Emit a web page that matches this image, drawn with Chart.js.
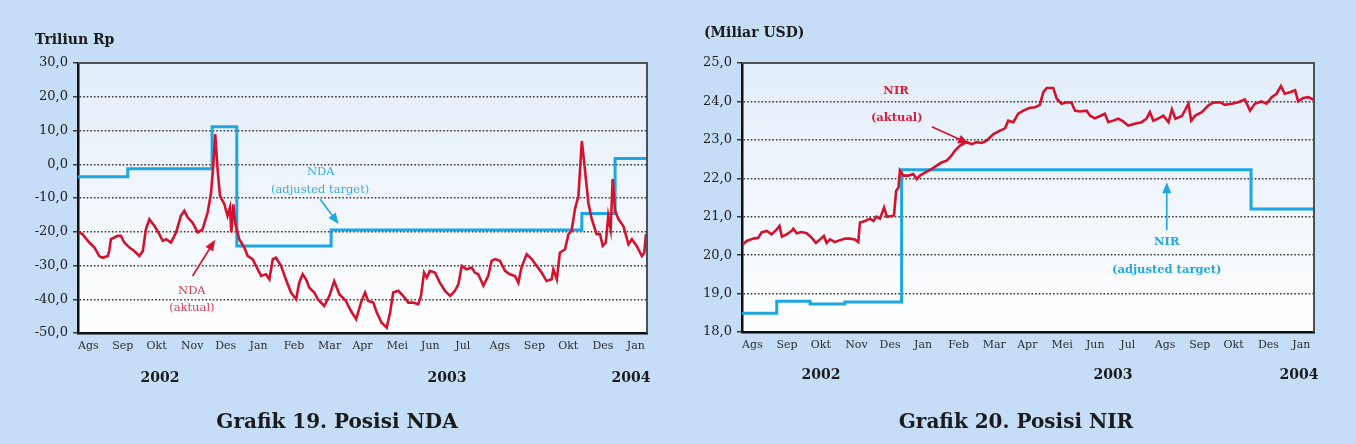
<!DOCTYPE html>
<html>
<head>
<meta charset="utf-8">
<script src="https://cdn.jsdelivr.net/npm/chart.js@4.4.1/dist/chart.umd.min.js"></script>
<style>
  html, body { margin: 0; padding: 0; }
  body { width: 1356px; height: 444px; background: #c6ddf7; position: relative; overflow: hidden; font-family: 'DejaVu Serif', serif; }
  .box { position: absolute; top: 0; width: 678px; height: 444px; }
  .txt { position: absolute; line-height: 1; white-space: nowrap; color: #1b1b1b; font-weight: bold; }
  .c { transform: translateX(-50%); }
</style>
</head>
<body>
<div class="box" style="left:0"><canvas id="grafikNda"></canvas></div>
<div class="box" style="left:678px"><canvas id="grafikNir"></canvas></div>

<div class="txt" style="left:35px;top:32px;font-size:14px">Triliun Rp</div>
<div class="txt" style="left:704px;top:25px;font-size:14px">(Miliar USD)</div>

<div class="txt c" style="left:160px;top:370px;font-size:14px">2002</div>
<div class="txt c" style="left:447px;top:370px;font-size:14px">2003</div>
<div class="txt c" style="left:631px;top:370px;font-size:14px">2004</div>
<div class="txt c" style="left:821px;top:367px;font-size:14px">2002</div>
<div class="txt c" style="left:1113px;top:367px;font-size:14px">2003</div>
<div class="txt c" style="left:1299px;top:367px;font-size:14px">2004</div>

<div class="txt c" style="left:337px;top:411px;font-size:20px">Grafik 19. Posisi NDA</div>
<div class="txt c" style="left:1016px;top:411px;font-size:20px">Grafik 20. Posisi NIR</div>

<script>
// label bulan pada sumbu x (Nov 2003 memang tidak tercetak di grafik asli)
const bulanLabel = ['Ags','Sep','Okt','Nov','Des','Jan','Feb','Mar','Apr','Mei','Jun','Jul','Ags','Sep','Okt','Des','Jan'];

// NDA aktual (Triliun Rp), posisi dalam satuan bulan sejak awal Agustus 2002
const ndaAktualX = [0.02,0.13,0.33,0.48,0.62,0.72,0.87,0.91,0.96,1.06,1.16,1.25,1.35,1.5,1.64,1.79,1.89,1.98,2.08,2.23,
  2.37,2.47,2.57,2.71,2.86,3.0,3.1,3.2,3.34,3.49,3.63,3.78,3.88,3.95,4.0,4.07,4.14,4.27,4.36,4.43,
  4.47,4.53,4.59,4.7,4.85,4.95,5.09,5.19,5.34,5.48,5.58,5.68,5.77,5.92,6.06,6.21,6.36,6.45,6.55,6.65,
  6.74,6.89,6.99,7.18,7.33,7.47,7.62,7.81,7.96,8.11,8.25,8.37,8.46,8.61,8.71,8.85,9.0,9.1,9.19,9.34,
  9.48,9.63,9.77,9.92,10.0,10.09,10.17,10.26,10.41,10.55,10.7,10.85,10.99,11.09,11.19,11.33,11.48,11.57,11.67,11.82,
  11.96,12.06,12.16,12.3,12.45,12.59,12.74,12.84,12.93,13.08,13.23,13.37,13.52,13.66,13.81,13.86,13.96,14.05,14.2,14.3,
  14.39,14.49,14.59,14.69,14.78,14.88,14.98,15.12,15.22,15.3,15.39,15.46,15.53,15.59,15.66,15.76,15.9,16.05,16.15,16.29,
  16.44,16.51,16.56];
const ndaAktualY = [-20.2,-20.7,-23.2,-24.7,-27.2,-27.7,-27.2,-25.7,-22.2,-21.7,-21.2,-21.2,-23.2,-24.7,-25.7,-27.2,-25.7,-19.3,-16.3,-18.3,
  -20.7,-22.7,-22.2,-23.2,-20.2,-15.3,-13.8,-15.8,-17.3,-20.2,-19.3,-14.3,-8.4,0.5,8.9,-1.5,-9.4,-11.9,-15.3,-12.8,
  -20.2,-11.9,-17.8,-22.2,-24.7,-27.2,-28.1,-30.1,-33.1,-32.6,-34.1,-28.1,-27.7,-30.1,-34.1,-38,-40,-35.1,-32.6,-34.1,
  -36.5,-38,-40,-42,-39,-34.6,-38.5,-40.5,-43.5,-45.9,-41,-38,-40.5,-41,-43.9,-46.9,-48.4,-43.9,-38,-37.5,
  -39,-41,-41,-41.5,-39,-32.1,-33.6,-31.6,-32.1,-35.1,-37.5,-39,-37.5,-35.6,-30.1,-31.1,-30.6,-32.1,-32.6,-36,
  -33.1,-28.6,-28.1,-28.6,-31.6,-32.6,-33.1,-35.1,-30.6,-26.7,-28.1,-30.1,-32.1,-34.6,-34.1,-31.1,-34.1,-26.2,-25.2,-20.7,
  -19.8,-13.3,-9.4,6.9,-1.5,-11.4,-16.3,-20.7,-20.7,-24.2,-23.2,-15.3,-19.3,-4.4,-13.8,-16.3,-18.3,-23.7,-22.2,-24.2,
  -27.2,-26.2,-20.7];

// NDA adjusted target (berlaku mulai posisi x sampai perubahan berikutnya)
const ndaTargetX = [0, 1.45, 3.91, 4.63, 7.38, 14.69, 15.66, 16.59];
const ndaTargetY = [-3.7, -1.3, 11.1, -24.2, -19.5, -14.6, 1.7, 1.7];

// NIR aktual (Miliar USD)
const nirAktualX = [0.02,0.14,0.33,0.47,0.57,0.72,0.86,1.01,1.09,1.16,1.3,1.44,1.49,1.59,1.73,1.88,2.03,2.15,2.27,2.38,
  2.46,2.56,2.7,2.85,3.0,3.14,3.28,3.38,3.43,3.58,3.72,3.82,3.91,4.01,4.13,4.21,4.35,4.42,4.48,4.55,
  4.59,4.69,4.84,4.98,5.08,5.17,5.32,5.51,5.66,5.8,5.95,6.09,6.19,6.34,6.53,6.68,6.82,6.97,7.11,7.31,
  7.5,7.65,7.74,7.89,8.03,8.18,8.35,8.52,8.66,8.76,8.86,9.05,9.15,9.29,9.44,9.58,9.68,9.82,10.02,10.12,
  10.26,10.41,10.55,10.65,10.79,10.94,11.08,11.23,11.42,11.62,11.76,11.86,11.96,12.11,12.25,12.4,12.5,12.6,12.79,12.98,
  13.06,13.18,13.37,13.56,13.7,13.9,14.04,14.24,14.43,14.62,14.77,14.91,15.1,15.25,15.4,15.54,15.67,15.78,15.93,16.08,
  16.17,16.32,16.46,16.62];
const nirAktualY = [20.28,20.37,20.43,20.45,20.59,20.63,20.54,20.67,20.76,20.48,20.54,20.63,20.69,20.57,20.6,20.57,20.45,20.32,20.41,20.5,
  20.32,20.41,20.34,20.39,20.43,20.43,20.41,20.34,20.85,20.89,20.95,20.89,21.0,20.95,21.24,21.0,21.02,21.04,21.67,21.76,
  22.2,22.07,22.07,22.11,21.98,22.07,22.15,22.24,22.33,22.41,22.46,22.59,22.72,22.85,22.94,22.89,22.94,22.92,22.98,23.15,
  23.24,23.3,23.5,23.46,23.68,23.76,23.83,23.85,23.91,24.24,24.35,24.35,24.07,23.94,23.98,23.97,23.76,23.74,23.76,23.63,
  23.56,23.62,23.68,23.46,23.5,23.55,23.48,23.37,23.42,23.46,23.55,23.72,23.5,23.56,23.63,23.46,23.79,23.55,23.62,23.94,
  23.5,23.63,23.72,23.9,23.97,23.98,23.91,23.94,23.98,24.05,23.76,23.94,24.0,23.94,24.11,24.2,24.4,24.2,24.24,24.29,
  24.0,24.09,24.11,24.05];

// NIR adjusted target
const nirTargetX = [0, 1.01, 1.98, 2.99, 4.64, 14.8, 16.63];
const nirTargetY = [18.49, 18.8, 18.73, 18.78, 22.22, 21.2, 21.2];

const merah = '#d5122d';
const biru = '#1ea6e1';

Chart.defaults.font.family = "'DejaVu Serif', serif";

function gabung(xs, ys) {
  return xs.map((x, i) => ({ x: x, y: ys[i] }));
}

function gambarPanah(ctx, x1, y1, x2, y2, warna) {
  const a = Math.atan2(y2 - y1, x2 - x1);
  ctx.save();
  ctx.strokeStyle = warna;
  ctx.fillStyle = warna;
  ctx.lineWidth = 1.6;
  ctx.beginPath();
  ctx.moveTo(x1, y1);
  ctx.lineTo(x2 - 7 * Math.cos(a), y2 - 7 * Math.sin(a));
  ctx.stroke();
  ctx.beginPath();
  ctx.moveTo(x2, y2);
  ctx.lineTo(x2 - 11 * Math.cos(a) + 4.5 * Math.sin(a), y2 - 11 * Math.sin(a) - 4.5 * Math.cos(a));
  ctx.lineTo(x2 - 11 * Math.cos(a) - 4.5 * Math.sin(a), y2 - 11 * Math.sin(a) + 4.5 * Math.cos(a));
  ctx.closePath();
  ctx.fill();
  ctx.restore();
}

// latar area plot, bingkai atas/kanan, dan keterangan di dalam grafik
const catatanPlugin = {
  id: 'catatan',
  beforeDraw(chart) {
    const { ctx, chartArea: a } = chart;
    const g = ctx.createLinearGradient(0, a.top, 0, a.bottom);
    g.addColorStop(0, '#e2edf9');
    g.addColorStop(1, '#ffffff');
    ctx.save();
    ctx.fillStyle = g;
    ctx.fillRect(a.left, a.top, a.right - a.left, a.bottom - a.top);
    ctx.restore();
  },
  afterDraw(chart, args, opts) {
    const { ctx, chartArea: a, scales } = chart;
    ctx.save();
    ctx.strokeStyle = '#4b5058';
    ctx.lineWidth = 2;
    ctx.beginPath();
    ctx.moveTo(a.left, a.top);
    ctx.lineTo(a.right, a.top);
    ctx.lineTo(a.right, a.bottom);
    ctx.stroke();
    ctx.restore();

    (opts.panah || []).forEach(p => {
      gambarPanah(ctx, scales.x.getPixelForValue(p.x1), scales.y.getPixelForValue(p.y1),
        scales.x.getPixelForValue(p.x2), scales.y.getPixelForValue(p.y2), p.warna);
    });
    (opts.teks || []).forEach(t => {
      ctx.save();
      ctx.fillStyle = t.warna;
      ctx.font = (t.tebal ? 'bold ' : '') + '11.5px "DejaVu Serif"';
      ctx.textAlign = 'center';
      ctx.textBaseline = 'middle';
      ctx.fillText(t.isi, scales.x.getPixelForValue(t.x), scales.y.getPixelForValue(t.y));
      ctx.restore();
    });
  }
};

function buatGrafik(id, cfg) {
  return new Chart(document.getElementById(id), {
    type: 'line',
    data: {
      datasets: [
        {
          label: cfg.namaAktual,
          data: gabung(cfg.aktualX, cfg.aktualY),
          borderColor: merah,
          borderWidth: 2.6,
          pointRadius: 0,
          tension: 0
        },
        {
          label: cfg.namaTarget,
          data: gabung(cfg.targetX, cfg.targetY),
          borderColor: biru,
          borderWidth: 3,
          pointRadius: 0,
          stepped: 'before'
        }
      ]
    },
    options: {
      responsive: true,
      maintainAspectRatio: false,
      animation: false,
      layout: { padding: cfg.padding },
      plugins: {
        legend: { display: false },
        tooltip: { enabled: false },
        catatan: { teks: cfg.teks, panah: cfg.panah }
      },
      scales: {
        x: {
          type: 'linear',
          min: 0,
          max: cfg.xMax,
          afterBuildTicks: s => { s.ticks = bulanLabel.map((_, i) => ({ value: i })); },
          afterFit: s => { s.height = 30; },
          grid: { display: false, drawTicks: false },
          border: { display: true, color: '#111', width: 2.5 },
          ticks: {
            align: 'start',
            padding: 7,
            maxRotation: 0,
            autoSkip: false,
            color: '#2e2e2e',
            font: { size: 11 },
            callback: v => bulanLabel[v]
          }
        },
        y: {
          min: cfg.yMin,
          max: cfg.yMax,
          afterFit: s => { s.width = cfg.yWidth; },
          grid: { color: '#383838', lineWidth: 1.5, tickLength: 5, drawOnChartArea: true },
          border: { display: true, color: '#111', width: 2.5, dash: [1.6, 2] },
          ticks: {
            stepSize: cfg.yStep,
            padding: 5,
            color: '#1e1e1e',
            font: { size: 13 },
            callback: v => v.toFixed(1).replace('.', ',')
          }
        }
      }
    },
    plugins: [catatanPlugin]
  });
}

buatGrafik('grafikNda', {
  namaAktual: 'NDA (aktual)',
  namaTarget: 'NDA (adjusted target)',
  aktualX: ndaAktualX, aktualY: ndaAktualY,
  targetX: ndaTargetX, targetY: ndaTargetY,
  xMax: 16.59, yMin: -50, yMax: 30, yStep: 10, yWidth: 78,
  padding: { top: 63, right: 31, bottom: 81, left: 0 },
  teks: [
    { isi: 'NDA', x: 7.08, y: -2.4, warna: '#38ade4' },
    { isi: '(adjusted target)', x: 7.06, y: -7.7, warna: '#38ade4' },
    { isi: 'NDA', x: 3.32, y: -37.5, warna: '#e03a55' },
    { isi: '(aktual)', x: 3.32, y: -42.6, warna: '#e03a55' }
  ],
  panah: [
    { x1: 7.06, y1: -10.4, x2: 7.6, y2: -17.7, warna: biru },
    { x1: 3.34, y1: -33.1, x2: 4.0, y2: -22.4, warna: merah }
  ]
});

buatGrafik('grafikNir', {
  namaAktual: 'NIR (aktual)',
  namaTarget: 'NIR (adjusted target)',
  aktualX: nirAktualX, aktualY: nirAktualY,
  targetX: nirTargetX, targetY: nirTargetY,
  xMax: 16.63, yMin: 18, yMax: 25, yStep: 1, yWidth: 64,
  padding: { top: 63, right: 42, bottom: 82, left: 0 },
  teks: [
    { isi: 'NIR', x: 4.48, y: 24.28, warna: '#d81e3a', tebal: true },
    { isi: '(aktual)', x: 4.5, y: 23.58, warna: '#d81e3a', tebal: true },
    { isi: 'NIR', x: 12.35, y: 20.34, warna: '#23a8e3', tebal: true },
    { isi: '(adjusted target)', x: 12.35, y: 19.61, warna: '#23a8e3', tebal: true }
  ],
  panah: [
    { x1: 5.52, y1: 23.34, x2: 6.6, y2: 22.9, warna: merah },
    { x1: 12.35, y1: 20.65, x2: 12.35, y2: 21.9, warna: biru }
  ]
});
</script>
</body>
</html>
